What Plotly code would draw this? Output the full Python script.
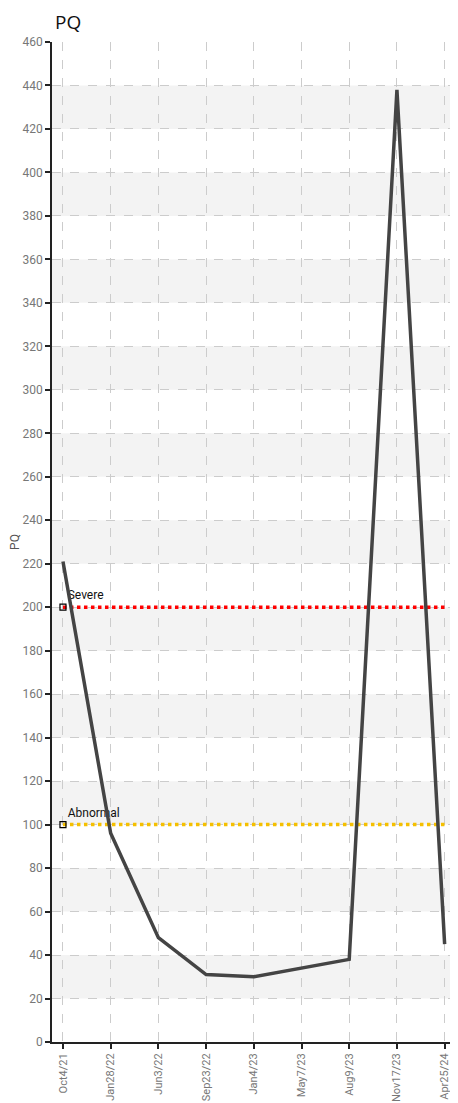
import plotly.graph_objects as go

dates = ["Oct4/21", "Jan28/22", "Jun3/22", "Sep23/22", "Jan4/23", "May7/23", "Aug9/23", "Nov17/23", "Apr25/24"]
pq_values = [221, 96, 48, 31, 30, 34, 38, 438, 45]
threshold_names = ["Severe", "Abnormal"]
threshold_values = [200, 100]
threshold_colors = ["#ff0000", "#f5c000"]
y_ticks = list(range(0, 461, 20))

tick_font = dict(family="Roboto, sans-serif", size=12, color="#777777")
xtick_font = dict(family="Roboto, sans-serif", size=11, color="#777777")

# page body has an 8px margin; figure is sized to fit the 458x1103 window
W, H = 450, 1095

fig = go.Figure()

# alternating bands
shapes = []
for lo in range(20, 440, 40):
    shapes.append(dict(type="rect", xref="paper", yref="y", x0=0, x1=1, y0=lo, y1=lo + 20,
                       fillcolor="#f3f3f3", line=dict(width=0), layer="below"))

for name, val, col in zip(threshold_names, threshold_values, threshold_colors):
    fig.add_trace(go.Scatter(x=[dates[0], dates[-1]], y=[val, val], mode="lines",
                             line=dict(color=col, width=3.5, dash="dot"), showlegend=False,
                             hoverinfo="skip"))
    fig.add_trace(go.Scatter(x=[dates[0]], y=[val], mode="markers+text", text=[name],
                             textposition="top right",
                             textfont=dict(family="Roboto, sans-serif", size=12, color="#111"),
                             marker=dict(symbol="square-open", size=6, color="#000", line=dict(width=1.2)),
                             showlegend=False))

fig.add_trace(go.Scatter(x=dates, y=pq_values, mode="lines",
                         line=dict(color="#444444", width=3.5), showlegend=False))

fig.update_layout(
    width=W, height=H,
    margin=dict(l=44, r=0, t=34, b=61),
    paper_bgcolor="white", plot_bgcolor="white",
    shapes=shapes,
    title=dict(text="PQ", x=47 / W, xref="container", xanchor="left",
               y=1 - 14 / H, yref="container", yanchor="middle",
               font=dict(family="Open Sans, sans-serif", size=19, color="#111")),
    xaxis=dict(type="category", categoryorder="array", categoryarray=dates,
               range=[-0.23, 8.28], tickangle=-90, tickfont=xtick_font, automargin=False,
               showgrid=True, gridcolor="#cccccc", griddash="dash", gridwidth=1,
               showline=True, linecolor="#222", linewidth=2,
               ticks="outside", ticklen=5, tickcolor="#222", tickwidth=2, zeroline=False),
    yaxis=dict(range=[0, 460], tickvals=y_ticks, tickfont=tick_font, automargin=False,
               title=dict(text="PQ", font=dict(family="Roboto, sans-serif", size=12, color="#555"), standoff=4),
               showgrid=True, gridcolor="#cccccc", griddash="dash", gridwidth=1,
               showline=True, linecolor="#222", linewidth=1.5,
               ticks="outside", ticklen=5, tickcolor="#222", tickwidth=2, zeroline=False),
)

fig.write_html("out.html")
